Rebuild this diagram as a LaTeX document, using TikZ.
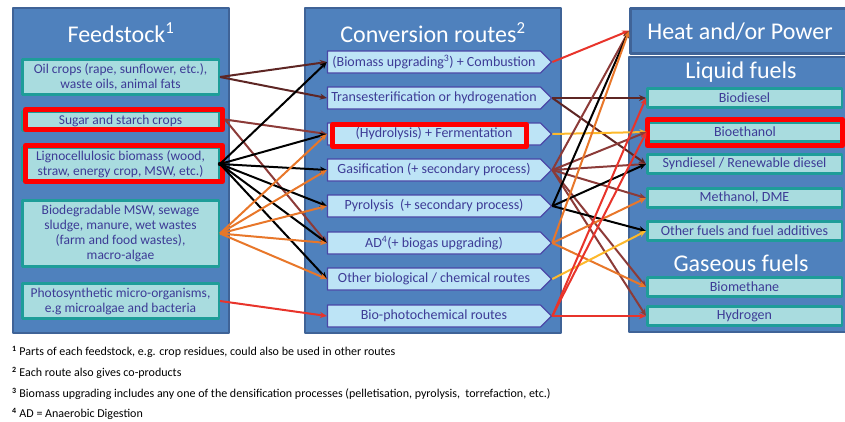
\documentclass[tikz,border=0pt]{standalone}
\usepackage{fontspec}
\setmainfont{Carlito}
\usetikzlibrary{shapes.symbols,arrows.meta}
\definecolor{panelblue}{HTML}{4F81BD}
\definecolor{paneledge}{HTML}{3F6397}
\definecolor{boxfill}{HTML}{A9DCDF}
\definecolor{boxedge}{HTML}{1E9D99}
\definecolor{routefill}{HTML}{BDE4F6}
\definecolor{routeedge}{HTML}{4A46A6}
\definecolor{textblue}{HTML}{3D3B96}
\definecolor{markred}{HTML}{FF0000}
\definecolor{darkbrown}{HTML}{5E2624}
\definecolor{rustbrown}{HTML}{8C3B38}
\definecolor{orangeline}{HTML}{E8772A}
\definecolor{yellowline}{HTML}{FDB92C}
\definecolor{redline}{HTML}{E8342B}
\tikzset{
  panel/.style={fill=panelblue, draw=paneledge, line width=2.5pt},
  paneltitle/.style={text=white, font=\fontsize{24}{28}\selectfont},
  feedbox/.style={fill=boxfill, draw=boxedge, line width=2.5pt, text=textblue,
    font=\fontsize{13.5}{15}\selectfont, align=center, minimum width=196.5pt, inner sep=1pt},
  fuelbox/.style={feedbox, minimum width=194.5pt, minimum height=19pt, font=\fontsize{14}{15}\selectfont},
  route/.style={signal, signal to=east, signal from=nowhere, fill=routefill, draw=routeedge,
    line width=1.2pt, minimum width=224pt, minimum height=22pt, inner sep=1pt, text=textblue,
    font=\fontsize{14}{15}\selectfont},
  hilite/.style={draw=markred, line width=5pt},
  link/.style={line width=2pt, ->},
  note/.style={anchor=west, font=\fontsize{12}{14}\selectfont, inner sep=0pt}
}
\begin{document}
\begin{tikzpicture}[x=1pt, y=-1pt, line join=round, >={Stealth[length=7pt,width=6pt]}]
\useasboundingbox (0,0) rectangle (845,421);
% panels
\draw[panel] (13,8) rectangle (229,333);
\draw[panel] (305,8) rectangle (561,333);
\node[panel, anchor=north west, minimum width=222pt, minimum height=45pt] (heat) at (629,7) {};
\draw[panel] (629,57) rectangle (851,332);
\node[paneltitle] (tfeed) at (121,33) {Feedstock\textsuperscript{1}};
\node[paneltitle] (troute) at (433,33) {Conversion routes\textsuperscript{2}};
\node[paneltitle] (theat) at (740,32) {Heat and/or Power};
\node[paneltitle] (tliquid) at (741,72) {Liquid fuels};
\node[paneltitle] (tgas) at (741,263) {Gaseous fuels};
% feedstock
\node[feedbox, minimum height=35pt] (oil) at (120.5,77) {Oil crops (rape, sunflower, etc.),\\ waste oils, animal fats};
\node[feedbox, minimum height=19pt] (sugar) at (120.5,121) {Sugar and starch crops};
\node[feedbox, minimum height=33pt] (ligno) at (120.5,164) {Lignocellulosic biomass (wood,\\ straw, energy crop, MSW, etc.)};
\node[feedbox, minimum height=66pt] (biodeg) at (120.5,233.5) {Biodegradable MSW, sewage\\ sludge, manure, wet wastes\\ (farm and food wastes),\\ macro-algae};
\node[feedbox, minimum height=35pt] (photo) at (120.5,301) {Photosynthetic micro-organisms,\\ e.g microalgae and bacteria};
% conversion routes
\node[route] (comb) at (434,62) {(Biomass upgrading\textsuperscript{3}) + Combustion};
\node[route] (trans) at (434,98) {Transesterification or hydrogenation};
\node[route] (ferm) at (434,134) {(Hydrolysis) + Fermentation};
\node[route] (gasif) at (434,170) {Gasification (+ secondary process)};
\node[route] (pyro) at (434,206) {Pyrolysis\ \ (+ secondary process)};
\node[route] (ad) at (434,243) {AD\textsuperscript{4}(+ biogas upgrading)};
\node[route] (otherbio) at (434,279) {Other biological / chemical routes};
\node[route] (photochem) at (434,316) {Bio-photochemical routes};
% products
\node[fuelbox] (biodiesel) at (744.5,98) {Biodiesel};
\node[fuelbox] (bioethanol) at (745,132) {Bioethanol};
\node[fuelbox] (syndiesel) at (744.5,164) {Syndiesel / Renewable diesel};
\node[fuelbox] (methanol) at (744.5,198) {Methanol, DME};
\node[fuelbox] (otherfuel) at (744.5,231) {Other fuels and fuel additives};
\node[fuelbox] (biomethane) at (744.5,287) {Biomethane};
\node[fuelbox] (hydrogen) at (744.5,316) {Hydrogen};
% red marks
\node[hilite, minimum width=197pt, minimum height=20pt] (sugarmark) at (124,119.5) {};
\node[hilite, minimum width=197pt, minimum height=36pt] (lignomark) at (124,163.5) {};
\node[hilite, minimum width=194pt, minimum height=22pt] (fermmark) at (429.5,135.5) {};
\node[hilite, minimum width=195pt, minimum height=26pt] (ethmark) at (745,132.5) {};
% feedstock -> routes
\foreach \t in {comb,trans} \draw[link, darkbrown] (oil.east) -- (\t.west);
\foreach \t in {ferm,ad} \draw[link, rustbrown] (sugarmark.east) -- (\t.west);
\foreach \t in {comb,ferm,gasif,pyro,ad,otherbio} \draw[link, black] (ligno.east) -- (\t.west);
\fill (ligno.east) circle (2.2pt);
\foreach \t in {ferm,gasif,pyro,ad,otherbio} \draw[link, orangeline] (biodeg.east) -- (\t.west);
\draw[link, redline] (photo.east) -- (photochem.west);
% routes -> products
\draw[link, redline] (comb.east) -- (heat.west);
\foreach \t in {biodiesel,syndiesel} \draw[link, darkbrown] (trans.east) -- (\t.west);
\draw[link, yellowline] (ferm.east) -- (bioethanol.west);
\foreach \t in {heat,bioethanol,syndiesel,methanol,biomethane,hydrogen}
  \draw[link, rustbrown] (gasif.east) -- (\t.west);
\foreach \t in {heat,syndiesel,otherfuel} \draw[link, black] (pyro.east) -- (\t.west);
\foreach \t in {heat,methanol,biomethane} \draw[link, orangeline] (ad.east) -- (\t.west);
\draw[link, yellowline] (otherbio.east) -- (otherfuel.west);
\foreach \t in {biodiesel,bioethanol,hydrogen} \draw[link, redline] (photochem.east) -- (\t.west);
% footnotes
\node[note] (n1) at (12,352) {\textsuperscript{\bfseries 1} Parts of each feedstock, e.g. crop residues, could also be used in other routes};
\node[note] (n2) at (12,373) {\textsuperscript{\bfseries 2} Each route also gives co-products};
\node[note] (n3) at (12,394) {\textsuperscript{\bfseries 3} Biomass upgrading includes any one of the densification processes (pelletisation, pyrolysis,\ \ torrefaction, etc.)};
\node[note] (n4) at (12,414) {\textsuperscript{\bfseries 4} AD = Anaerobic Digestion};
\end{tikzpicture}
\end{document}
